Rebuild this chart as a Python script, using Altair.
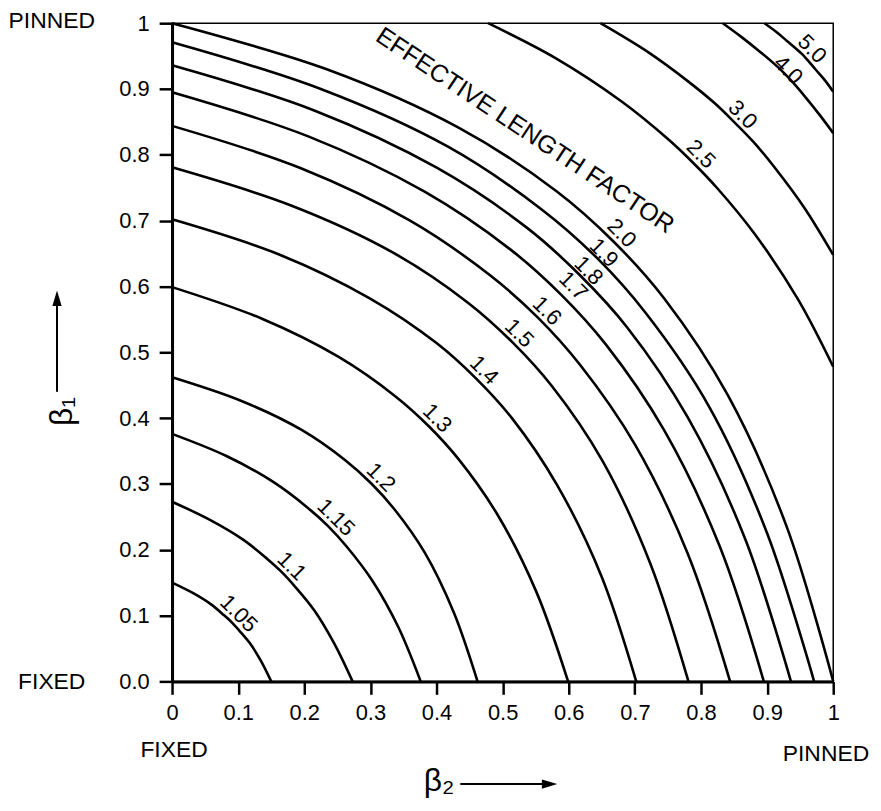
import altair as alt
import pandas as pd

# ---- contour levels (effective length factor) ----
levels = ["1.05", "1.1", "1.15", "1.2", "1.3", "1.4", "1.5", "1.6",
          "1.7", "1.8", "1.9", "2.0", "2.5", "3.0", "4.0", "5.0"]

x_105 = [0.000, 0.032, 0.059, 0.078, 0.090, 0.101, 0.117, 0.134, 0.150]
y_105 = [0.150, 0.134, 0.117, 0.101, 0.090, 0.078, 0.059, 0.032, 0.000]
x_110 = [0.000, 0.058, 0.108, 0.144, 0.166, 0.186, 0.215, 0.245, 0.273]
y_110 = [0.273, 0.245, 0.215, 0.186, 0.166, 0.144, 0.108, 0.058, 0.000]
x_115 = [0.000, 0.083, 0.153, 0.205, 0.236, 0.264, 0.303, 0.342, 0.376]
y_115 = [0.376, 0.342, 0.303, 0.264, 0.236, 0.205, 0.153, 0.083, 0.000]
x_120 = [0.000, 0.105, 0.196, 0.262, 0.301, 0.336, 0.382, 0.426, 0.462]
y_120 = [0.462, 0.426, 0.382, 0.336, 0.301, 0.262, 0.196, 0.105, 0.000]
x_130 = [0.000, 0.136, 0.252, 0.338, 0.388, 0.433, 0.493, 0.551, 0.599]
y_130 = [0.599, 0.551, 0.493, 0.433, 0.388, 0.338, 0.252, 0.136, 0.000]
x_140 = [0.000, 0.161, 0.299, 0.400, 0.460, 0.514, 0.582, 0.649, 0.702]
y_140 = [0.702, 0.649, 0.582, 0.514, 0.460, 0.400, 0.299, 0.161, 0.000]
x_150 = [0.000, 0.180, 0.335, 0.448, 0.515, 0.575, 0.651, 0.723, 0.781]
y_150 = [0.781, 0.723, 0.651, 0.575, 0.515, 0.448, 0.335, 0.180, 0.000]
x_160 = [0.000, 0.194, 0.360, 0.481, 0.553, 0.617, 0.700, 0.780, 0.844]
y_160 = [0.844, 0.780, 0.700, 0.617, 0.553, 0.481, 0.360, 0.194, 0.000]
x_170 = [0.000, 0.206, 0.382, 0.512, 0.588, 0.656, 0.744, 0.828, 0.895]
y_170 = [0.895, 0.828, 0.744, 0.656, 0.588, 0.512, 0.382, 0.206, 0.000]
x_180 = [0.000, 0.216, 0.401, 0.537, 0.617, 0.689, 0.780, 0.867, 0.936]
y_180 = [0.936, 0.867, 0.780, 0.689, 0.617, 0.537, 0.401, 0.216, 0.000]
x_190 = [0.000, 0.225, 0.418, 0.559, 0.643, 0.717, 0.812, 0.900, 0.971]
y_190 = [0.971, 0.900, 0.812, 0.717, 0.643, 0.559, 0.418, 0.225, 0.000]
x_200 = [0.000, 0.234, 0.434, 0.581, 0.668, 0.745, 0.841, 0.930, 1.000]
y_200 = [1.000, 0.930, 0.841, 0.745, 0.668, 0.581, 0.434, 0.234, 0.000]
x_250 = [0.478, 0.580, 0.680, 0.750, 0.788, 0.824, 0.881, 0.947, 1.000]
y_250 = [1.000, 0.947, 0.881, 0.824, 0.788, 0.750, 0.680, 0.580, 0.478]
x_300 = [0.648, 0.720, 0.780, 0.820, 0.850, 0.879, 0.912, 0.956, 1.000]
y_300 = [1.000, 0.956, 0.912, 0.879, 0.850, 0.820, 0.780, 0.720, 0.648]
x_400 = [0.833, 0.860, 0.890, 0.910, 0.925, 0.939, 0.956, 0.980, 1.000]
y_400 = [1.000, 0.980, 0.956, 0.939, 0.925, 0.910, 0.890, 0.860, 0.833]
x_500 = [0.896, 0.915, 0.930, 0.943, 0.953, 0.962, 0.973, 0.986, 1.000]
y_500 = [1.000, 0.986, 0.973, 0.962, 0.953, 0.943, 0.930, 0.915, 0.896]

curve_x = [x_105, x_110, x_115, x_120, x_130, x_140, x_150, x_160,
           x_170, x_180, x_190, x_200, x_250, x_300, x_400, x_500]
curve_y = [y_105, y_110, y_115, y_120, y_130, y_140, y_150, y_160,
           y_170, y_180, y_190, y_200, y_250, y_300, y_400, y_500]

# ---- contour label positions ----
label_x = [0.101, 0.181, 0.248, 0.316, 0.401, 0.472, 0.525, 0.567,
           0.607, 0.630, 0.653, 0.680, 0.800, 0.863, 0.932, 0.968]
label_y = [0.103, 0.175, 0.249, 0.310, 0.400, 0.473, 0.529, 0.563,
           0.601, 0.624, 0.651, 0.681, 0.801, 0.861, 0.929, 0.961]

# ---- annotations ----
title_text = ["EFFECTIVE LENGTH FACTOR"]
title_x = [0.534]
title_y = [0.837]

note_text = ["PINNED", "FIXED", "FIXED", "PINNED"]
note_x = [-0.182, -0.182, 0.003, 0.989]
note_y = [1.004, -0.001, -0.105, -0.111]

# arrows next to the axis titles
arrow_h_x = [0.436]
arrow_h_x2 = [0.562]
arrow_h_y = [-0.156]
arrow_h_head_x = [0.571]
arrow_v_x = [-0.174]
arrow_v_y = [0.440]
arrow_v_y2 = [0.572]
arrow_v_head_y = [0.582]

# ---- ticks ----
x_tick_values = [0, 0.1, 0.2, 0.3, 0.4, 0.5, 0.6, 0.7, 0.8, 0.9, 1]
x_tick_labels = ["0", "0.1", "0.2", "0.3", "0.4", "0.5", "0.6", "0.7", "0.8", "0.9", "1"]
y_tick_values = [0, 0.1, 0.2, 0.3, 0.4, 0.5, 0.6, 0.7, 0.8, 0.9, 1]
y_tick_labels = ["0.0", "0.1", "0.2", "0.3", "0.4", "0.5", "0.6", "0.7", "0.8", "0.9", "1"]


def label_expr(vals, labs):
    parts = [f"abs(datum.value - {v}) < 0.0001 ? '{l}'" for v, l in zip(vals, labs)]
    return " : ".join(parts) + " : ''"


rows = []
for name, xs, ys in zip(levels, curve_x, curve_y):
    for i, (a, b) in enumerate(zip(xs, ys)):
        rows.append({"level": name, "i": i, "x": a, "y": b})
curves = pd.DataFrame(rows)

labels_df = pd.DataFrame({"level": levels, "x": label_x, "y": label_y})
title_df = pd.DataFrame({"t": title_text, "x": title_x, "y": title_y})
notes_df = pd.DataFrame({"t": note_text, "x": note_x, "y": note_y})
arrow_h_df = pd.DataFrame({"x": arrow_h_x, "x2": arrow_h_x2, "y": arrow_h_y, "hx": arrow_h_head_x})
arrow_v_df = pd.DataFrame({"x": arrow_v_x, "y": arrow_v_y, "y2": arrow_v_y2, "hy": arrow_v_head_y})

FONT = "Liberation Sans"
xscale = alt.Scale(domain=[0, 1], nice=False, zero=False)
yscale = alt.Scale(domain=[0, 1], nice=False, zero=False)

x_axis = alt.Axis(
    values=x_tick_values, labelExpr=label_expr(x_tick_values, x_tick_labels),
    grid=False, tickSize=13, tickWidth=2.5, tickColor="black",
    domainColor="black", domainWidth=3, labelFont=FONT, labelFontSize=22,
    labelColor="black", labelPadding=8, labelFlush=False, labelOverlap=False,
    title="β₂", titleFont=FONT, titleFontSize=32, titleFontWeight="normal",
    titleColor="black", titleX=268, titleY=100, titleBaseline="middle",
    titleAlign="center",
)
y_axis = alt.Axis(
    values=y_tick_values, labelExpr=label_expr(y_tick_values, y_tick_labels),
    grid=False, tickSize=13, tickWidth=2.5, tickColor="black",
    domainColor="black", domainWidth=3, labelFont=FONT, labelFontSize=22,
    labelColor="black", labelPadding=10, labelFlush=False, labelOverlap=False,
    title="β₁", titleFont=FONT, titleFontSize=32, titleFontWeight="normal",
    titleColor="black", titleAngle=-90, titleX=-111, titleY=390,
    titleBaseline="middle", titleAlign="center",
)

lines = alt.Chart(curves).mark_line(
    interpolate="catmull-rom", color="black", strokeWidth=2.6
).encode(
    x=alt.X("x:Q", scale=xscale, axis=x_axis),
    y=alt.Y("y:Q", scale=yscale, axis=y_axis),
    detail="level:N",
    order="i:Q",
)

contour_labels = alt.Chart(labels_df).mark_text(
    font=FONT, fontSize=22, angle=45, color="black", align="center", baseline="middle"
).encode(x=alt.X("x:Q", scale=xscale), y=alt.Y("y:Q", scale=yscale), text="level:N")

factor_title = alt.Chart(title_df).mark_text(
    font=FONT, fontSize=25, angle=33.5, color="black", align="center", baseline="middle"
).encode(x=alt.X("x:Q", scale=xscale), y=alt.Y("y:Q", scale=yscale), text="t:N")

notes = alt.Chart(notes_df).mark_text(
    font=FONT, fontSize=23, color="black", align="center", baseline="middle"
).encode(x=alt.X("x:Q", scale=xscale), y=alt.Y("y:Q", scale=yscale), text="t:N")

arrow_h_line = alt.Chart(arrow_h_df).mark_rule(color="black", strokeWidth=2).encode(
    x=alt.X("x:Q", scale=xscale), x2="x2:Q", y=alt.Y("y:Q", scale=yscale))
arrow_h_head = alt.Chart(arrow_h_df).mark_point(
    shape="M-1,-0.6L1,0L-1,0.6Z", filled=True, color="black", size=240, opacity=1
).encode(x=alt.X("hx:Q", scale=xscale), y=alt.Y("y:Q", scale=yscale))

arrow_v_line = alt.Chart(arrow_v_df).mark_rule(color="black", strokeWidth=2).encode(
    x=alt.X("x:Q", scale=xscale), y=alt.Y("y:Q", scale=yscale), y2="y2:Q")
arrow_v_head = alt.Chart(arrow_v_df).mark_point(
    shape="M-0.6,1L0,-1L0.6,1Z", filled=True, color="black", size=240, opacity=1
).encode(x=alt.X("x:Q", scale=xscale), y=alt.Y("hy:Q", scale=yscale))

chart = alt.layer(
    lines, contour_labels, factor_title, notes,
    arrow_h_line, arrow_h_head, arrow_v_line, arrow_v_head,
).properties(
    width=665, height=662,
    autosize=alt.AutoSizeParams(type="none"),
    padding={"left": 165, "top": 13, "right": 40, "bottom": 115},
    background="white",
).configure_view(stroke="black", strokeWidth=1.5)

chart.save("out.html", embed_options={"renderer": "svg", "actions": False})
